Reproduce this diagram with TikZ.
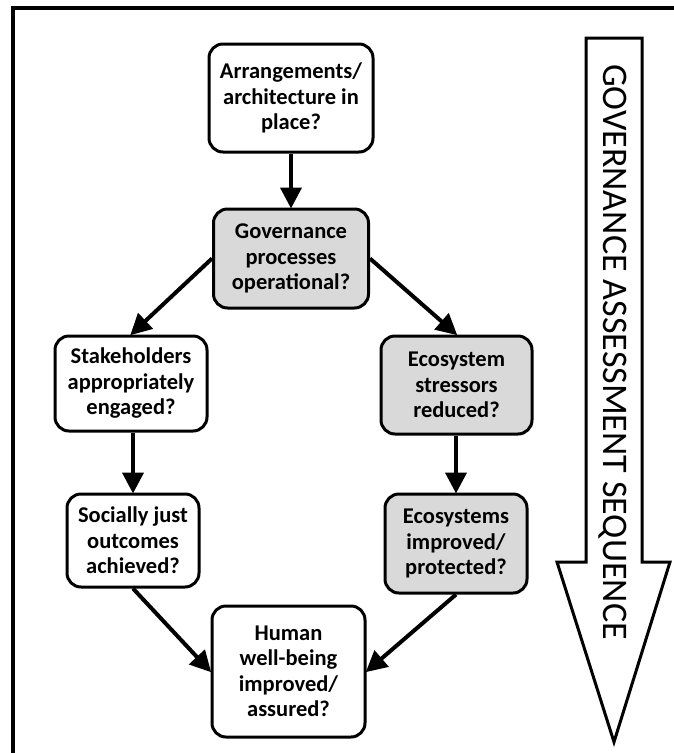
\documentclass[tikz,border=0pt]{standalone}
\usepackage{fontspec}
\setmainfont{Carlito}
\usetikzlibrary{arrows.meta}
\definecolor{boxgray}{HTML}{D9D9D9}
\tikzset{
  qbox/.style={draw=black, line width=3pt, rounded corners=14pt, fill=white, align=center,
    inner sep=0pt, font=\bfseries\fontsize{22.5}{25.5}\selectfont},
  gbox/.style={qbox, fill=boxgray},
  flow/.style={line width=4pt, -{Triangle[length=21pt,width=21pt]}, shorten >=-1pt}
}
\begin{document}
\begin{tikzpicture}[x=1pt,y=-1pt]
\useasboundingbox (0,0) rectangle (673,753);
% outer frame (cropped at right and bottom)
\draw[line width=3.5pt] (13,760) -- (13,8) -- (680,8);
% boxes
\node[qbox, minimum width=164pt, minimum height=108pt] (arr) at (291,98) {Arrangements/\\architecture in\\place?};
\node[gbox, minimum width=155pt, minimum height=99pt] (gov) at (291,258.5) {Governance\\processes\\operational?};
\node[qbox, minimum width=152pt, minimum height=95pt] (stk) at (131,383.5) {Stakeholders\\appropriately\\engaged?};
\node[qbox, minimum width=132pt, minimum height=93pt] (soc) at (133,540.5) {Socially just\\outcomes\\achieved?};
\node[gbox, minimum width=151pt, minimum height=98pt] (str) at (456.5,385) {Ecosystem\\stressors\\reduced?};
\node[gbox, minimum width=142pt, minimum height=99pt] (eco) at (456,543.5) {Ecosystems\\improved/\\protected?};
\node[qbox, minimum width=153pt, minimum height=131pt] (hum) at (288.5,671.5) {Human\\well-being\\improved/\\assured?};
% connectors
\draw[flow] (arr.south) -- (gov.north);
\draw[flow] (gov.west) -- (stk.north);
\draw[flow] (gov.east) -- (str.north);
\draw[flow] (stk.south -| soc.north) -- (soc.north);
\draw[flow] (str.south -| eco.north) -- (eco.north);
\draw[flow] (soc.south) -- (hum.west);
\draw[flow] (eco.south) -- (hum.east);
% big sequence arrow
\draw[line width=3pt, line join=miter, fill=white]
  (586,38) -- (642,38) -- (642,562) -- (670,562) -- (614,742) -- (557,562) -- (586,562) -- cycle;
\node[rotate=-90, anchor=base, inner sep=0pt, font=\fontsize{36}{40}\selectfont] (seq) at (603,352) {GOVERNANCE ASSESSMENT SEQUENCE};
\end{tikzpicture}
\end{document}
